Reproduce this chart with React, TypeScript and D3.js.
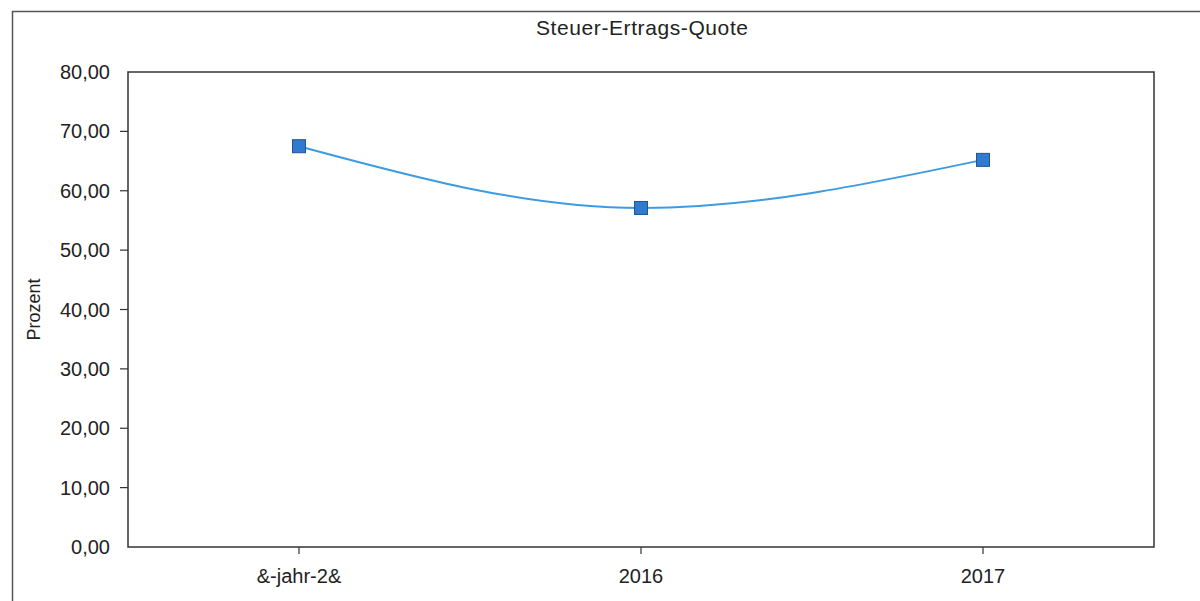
// Steuer-Ertrags-Quote line chart
import React, { useEffect, useRef } from 'react';
import * as d3 from 'd3';

const title = 'Steuer-Ertrags-Quote';
const yAxisTitle = 'Prozent';
const categories = ['&-jahr-2&', '2016', '2017'];
const values = [67.5, 57.1, 65.2];
const yTicks = [0, 10, 20, 30, 40, 50, 60, 70, 80];

const WIDTH = 1200;
const HEIGHT = 601;
const FONT = '"Liberation Sans", Arial, sans-serif';

export default function App() {
  const svgRef = useRef<SVGSVGElement>(null);

  useEffect(() => {
    if (!svgRef.current) return;
    const svg = d3.select(svgRef.current);
    svg.selectAll('*').remove();

    const plot = { left: 128, top: 72, right: 1154, bottom: 547 };

    const x = d3.scaleBand<string>()
      .domain(categories)
      .range([plot.left, plot.right]);

    const y = d3.scaleLinear()
      .domain([0, 80])
      .range([plot.bottom, plot.top]);

    const fmt = (v: number) => v.toFixed(2).replace('.', ',');

    // outer frame (runs off the right and bottom edge)
    svg.append('rect')
      .attr('x', 12.5)
      .attr('y', 11.5)
      .attr('width', WIDTH)
      .attr('height', HEIGHT)
      .attr('fill', 'none')
      .attr('stroke', '#555')
      .attr('stroke-width', 1.5);

    // title
    svg.append('text')
      .attr('x', 642)
      .attr('y', 35)
      .attr('text-anchor', 'middle')
      .attr('font-family', FONT)
      .attr('font-size', 21)
      .attr('textLength', 212)
      .attr('fill', '#222')
      .text(title);

    // plot frame
    svg.append('rect')
      .attr('x', plot.left)
      .attr('y', plot.top)
      .attr('width', plot.right - plot.left)
      .attr('height', plot.bottom - plot.top)
      .attr('fill', 'none')
      .attr('stroke', '#333')
      .attr('stroke-width', 1.5);

    // y ticks + labels
    yTicks.forEach(t => {
      if (t > 0 && t < 80) {
        svg.append('line')
          .attr('x1', plot.left - 8)
          .attr('x2', plot.left)
          .attr('y1', y(t))
          .attr('y2', y(t))
          .attr('stroke', '#333')
          .attr('stroke-width', 1.2);
      }
      svg.append('text')
        .attr('x', plot.left - 18)
        .attr('y', y(t))
        .attr('dy', '0.35em')
        .attr('text-anchor', 'end')
        .attr('font-family', FONT)
        .attr('font-size', 20)
        .attr('fill', '#222')
        .text(fmt(t));
    });

    // y axis title
    svg.append('text')
      .attr('transform', `translate(40,${y(40)}) rotate(-90)`)
      .attr('text-anchor', 'middle')
      .attr('font-family', FONT)
      .attr('font-size', 18)
      .attr('fill', '#222')
      .text(yAxisTitle);

    // x ticks + labels
    categories.forEach(c => {
      const cx = x(c)! + x.bandwidth() / 2;
      svg.append('line')
        .attr('x1', cx)
        .attr('x2', cx)
        .attr('y1', plot.bottom)
        .attr('y2', plot.bottom + 7)
        .attr('stroke', '#333')
        .attr('stroke-width', 1.2);
      svg.append('text')
        .attr('x', cx)
        .attr('y', 583)
        .attr('text-anchor', 'middle')
        .attr('font-family', FONT)
        .attr('font-size', 20)
        .attr('fill', '#222')
        .text(c);
    });

    const pts = categories.map((c, i) => ({
      x: x(c)! + x.bandwidth() / 2,
      y: y(values[i])
    }));

    const line = d3.line<{ x: number; y: number }>()
      .x(d => d.x)
      .y(d => d.y)
      .curve(d3.curveMonotoneX);

    svg.append('path')
      .datum(pts)
      .attr('d', line)
      .attr('fill', 'none')
      .attr('stroke', '#3d9be0')
      .attr('stroke-width', 2);

    const size = 13;
    svg.selectAll('.marker')
      .data(pts)
      .enter()
      .append('rect')
      .attr('class', 'marker')
      .attr('x', d => d.x - size / 2)
      .attr('y', d => d.y - size / 2)
      .attr('width', size)
      .attr('height', size)
      .attr('fill', '#2f7bd0')
      .attr('stroke', '#24538f')
      .attr('stroke-width', 1);
  }, []);

  return (
    <svg
      ref={svgRef}
      width={WIDTH}
      height={HEIGHT}
      style={{ position: 'absolute', left: 0, top: 0, display: 'block', background: '#fff' }}
    />
  );
}
